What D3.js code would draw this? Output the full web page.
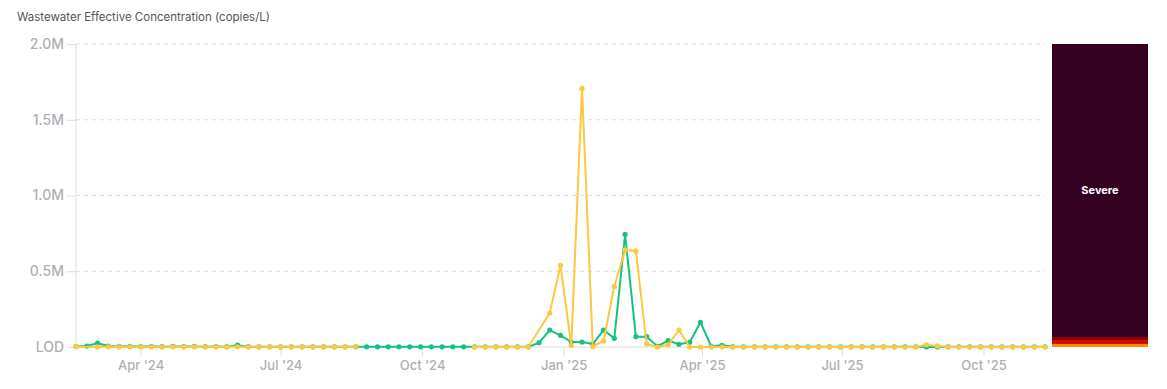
<!DOCTYPE html>
<html>
<head>
<meta charset="utf-8">
<script src="https://cdn.jsdelivr.net/npm/d3@7"></script>
<style>
  html, body { margin: 0; padding: 0; background: #fff; }
  svg { display: block; font-family: Inter, "Noto Sans", sans-serif; }
</style>
</head>
<body>
<svg id="chart" width="1167" height="389"></svg>
<script>
// ---------- DATA ----------
const title = "Wastewater Effective Concentration (copies/L)";

const dates = [
  "2024-02-19","2024-02-26","2024-03-04","2024-03-11","2024-03-18","2024-03-25","2024-04-01","2024-04-08",
  "2024-04-15","2024-04-22","2024-04-29","2024-05-06","2024-05-13","2024-05-20","2024-05-27","2024-06-03",
  "2024-06-10","2024-06-17","2024-06-24","2024-07-01","2024-07-08","2024-07-15","2024-07-22","2024-07-29",
  "2024-08-05","2024-08-12","2024-08-19","2024-08-26","2024-09-02","2024-09-09","2024-09-16","2024-09-23",
  "2024-09-30","2024-10-07","2024-10-14","2024-10-21","2024-10-28","2024-11-04","2024-11-11","2024-11-18",
  "2024-11-25","2024-12-02","2024-12-09","2024-12-16","2024-12-23","2024-12-30","2025-01-06","2025-01-13",
  "2025-01-20","2025-01-27","2025-02-03","2025-02-10","2025-02-17","2025-02-24","2025-03-03","2025-03-10",
  "2025-03-17","2025-03-24","2025-03-31","2025-04-07","2025-04-14","2025-04-21","2025-04-28","2025-05-05",
  "2025-05-12","2025-05-19","2025-05-26","2025-06-02","2025-06-09","2025-06-16","2025-06-23","2025-06-30",
  "2025-07-07","2025-07-14","2025-07-21","2025-07-28","2025-08-04","2025-08-11","2025-08-18","2025-08-25",
  "2025-09-01","2025-09-08","2025-09-15","2025-09-22","2025-09-29","2025-10-06","2025-10-13","2025-10-20",
  "2025-10-27","2025-11-03","2025-11-10"
];

// Series 1 (green), copies/L
const greenValues = [
  3000, 6000, 25000, 6000, 4000, 5000, 3000, 5000,
  2000, 4000, 3000, 4000, 2000, 3000, 2000, 12000,
  2000, 1000, 1000, 1000, 1000, 1000, 1000, 1000,
  1000, 1000, 1000, 1000, 1000, 1000, 1000, 1000,
  1000, 1000, 1000, 1000, 1000, 1000, 1000, 1000,
  1000, 1000, 1000, 28000, 112000, 77000, 33000, 33000,
  20000, 112000, 57000, 744000, 68000, 68000, 5000, 42000,
  18000, 31000, 163000, 5000, 11000, 2000, 1000, 1000,
  1000, 1000, 1000, 1000, 1000, 1000, 1000, 1000,
  1000, 1000, 1000, 1000, 1000, 1000, 1000, 0,
  0, 1000, 1000, 1000, 1000, 1000, 1000, 1000,
  1000, 1000, 1000
];

// Series 2 (yellow), copies/L; null = no sample
const yellowValues = [
  2000, null, 1000, 1000, 1000, 1000, 1000, 1000,
  1000, 1000, 1000, 1000, 1000, 1000, 1000, 1000,
  1000, 1000, 1000, 1000, 1000, 1000, 1000, 1000,
  1000, 1000, 1000, null, null, null, null, null,
  null, null, null, null, null, 0, 0, 0,
  0, 0, 0, null, 224000, 539000, 10000, 1707000,
  2000, 40000, 400000, 640000, 634000, 20000, 0, 15000,
  112000, 0, 0, 0, 0, 0, 0, 0,
  0, 0, 0, 0, 0, 0, 0, 0,
  0, 0, 0, 0, 0, 0, 0, 15000,
  7000, 0, 0, 0, 0, 0, 0, 0,
  0, 0, 0
];

const yTicks = [0, 500000, 1000000, 1500000, 2000000];
const yTickLabels = ["LOD", "0.5M", "1.0M", "1.5M", "2.0M"];
const xTicks = ["2024-04-01","2024-07-01","2024-10-01","2025-01-01","2025-04-01","2025-07-01","2025-10-01"];

// Severity bands (copies/L thresholds) for the level bar
const levelBreaks = [0, 20000, 46000, 66000, 2000000];
const levelColors = ["#ff8a00", "#cc0a00", "#940000", "#33001f"];
const levelLabel = "Severe";

// ---------- CHART ----------
const parse = d3.utcParse("%Y-%m-%d");
const svg = d3.select("#chart");
const M = { left: 76, right: 1045, top: 44, bottom: 347 };
const bar = { x0: 1052, x1: 1148 };

const x = d3.scaleUtc().domain(d3.extent(dates, parse)).range([M.left, M.right]);
const y = d3.scaleLinear().domain([0, 2000000]).range([M.bottom, M.top]);

svg.append("text")
  .attr("x", 17).attr("y", 21)
  .attr("font-size", 11.5).attr("fill", "#555")
  .text(title);

// Grid lines
svg.append("g").selectAll("line").data(yTicks.filter(v => v > 0)).join("line")
  .attr("x1", M.left).attr("x2", M.right)
  .attr("y1", d => y(d)).attr("y2", d => y(d))
  .attr("stroke", "#dcdcdc").attr("stroke-dasharray", "4,4");

// Y axis
const yAxis = svg.append("g").attr("transform", `translate(${M.left},0)`)
  .call(d3.axisLeft(y).tickValues(yTicks).tickSize(9).tickPadding(3)
    .tickFormat((d, i) => yTickLabels[i]));
yAxis.select(".domain").attr("stroke", "#dcdcdc").attr("d", `M0,${M.top}V${M.bottom}`);
yAxis.selectAll(".tick line").attr("stroke", "#dcdcdc");
yAxis.selectAll(".tick text").attr("fill", "#aeb0b3").attr("font-size", 14)
  .attr("font-weight", 500).attr("font-family", "Inter, sans-serif");

// X axis
const xAxis = svg.append("g").attr("transform", `translate(0,${M.bottom})`)
  .call(d3.axisBottom(x).tickValues(xTicks.map(parse)).tickSize(9).tickPadding(5)
    .tickFormat(d3.utcFormat("%b '%y")));
xAxis.select(".domain").attr("stroke", "#dcdcdc").attr("d", `M${M.left},0H${M.right}`);
xAxis.selectAll(".tick line").attr("stroke", "#dcdcdc");
xAxis.selectAll(".tick text").attr("fill", "#aeb0b3").attr("font-size", 13)
  .attr("font-weight", 500).attr("font-family", "Inter, sans-serif");

// Series drawing
function drawSeries(values, color) {
  const pts = dates.map((d, i) => ({ d: parse(d), v: values[i] })).filter(p => p.v != null);
  const withBreaks = [];
  pts.forEach((p, i) => {
    if (i > 0 && (p.d - pts[i - 1].d) > 15 * 864e5) withBreaks.push({ d: p.d, v: null });
    withBreaks.push(p);
  });
  const line = d3.line().defined(p => p.v != null).x(p => x(p.d)).y(p => y(p.v));
  const g = svg.append("g");
  g.append("path").datum(withBreaks).attr("d", line)
    .attr("fill", "none").attr("stroke", color).attr("stroke-width", 2)
    .attr("stroke-linejoin", "round");
  g.selectAll("circle").data(pts).join("circle")
    .attr("cx", p => x(p.d)).attr("cy", p => y(p.v)).attr("r", 2.6).attr("fill", color);
}
drawSeries(greenValues, "#12c47e");
drawSeries(yellowValues, "#fdc841");

// Level bar
const bands = levelColors.map((c, i) => ({ lo: levelBreaks[i], hi: levelBreaks[i + 1], c }));
svg.append("g").selectAll("rect").data(bands).join("rect")
  .attr("x", bar.x0).attr("width", bar.x1 - bar.x0)
  .attr("y", d => y(d.hi)).attr("height", d => y(d.lo) - y(d.hi))
  .attr("fill", d => d.c);
const topBand = bands[bands.length - 1];
svg.append("text")
  .attr("x", (bar.x0 + bar.x1) / 2).attr("y", (y(topBand.hi) + y(topBand.lo)) / 2)
  .attr("text-anchor", "middle").attr("dominant-baseline", "middle")
  .attr("fill", "#fff").attr("font-size", 11).attr("font-weight", 700)
  .text(levelLabel);
</script>
</body>
</html>
